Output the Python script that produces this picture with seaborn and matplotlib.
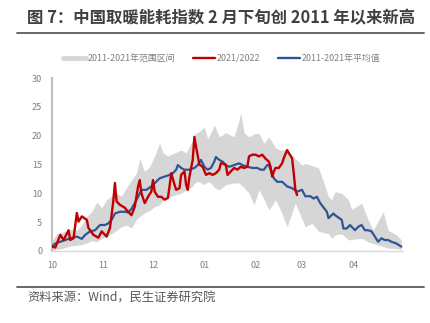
import matplotlib
matplotlib.use("Agg")
import matplotlib.pyplot as plt
from matplotlib.lines import Line2D
import pandas as pd
import seaborn as sns

sns.set_style("white")
plt.rcParams['font.family'] = ['Noto Sans CJK SC', 'DejaVu Sans']

title = "图 7：中国取暖能耗指数 2 月下旬创 2011 年以来新高"
source = "资料来源：Wind，民生证券研究院"
legend_labels = ["2011-2021年范围区间", "2021/2022", "2011-2021年平均值"]
month_labels = ["10", "11", "12", "01", "02", "03", "04", ""]
month_starts = ["10-01", "11-01", "12-01", "01-01", "02-01", "03-01", "04-01", "05-01"]

red_dates = ["10-01", "10-03", "10-06", "10-08", "10-11", "10-12", "10-14", "10-16", "10-17", "10-19",
             "10-22", "10-23", "10-26", "10-29", "10-31", "11-03", "11-05", "11-07", "11-08", "11-09",
             "11-11", "11-14", "11-15", "11-18", "11-20", "11-22", "11-23", "11-24", "11-26", "11-28",
             "11-30", "12-01", "12-02", "12-04", "12-06", "12-08", "12-10", "12-11", "12-12", "12-14",
             "12-15", "12-17", "12-18", "12-20", "12-21", "12-22", "12-23", "12-25", "12-26", "12-27",
             "12-29", "12-31", "01-02", "01-04", "01-06", "01-08", "01-10", "01-11", "01-12", "01-14",
             "01-15", "01-17", "01-19", "01-21", "01-23", "01-25", "01-27", "01-28", "01-30", "02-01",
             "02-03", "02-05", "02-07", "02-09", "02-10", "02-11", "02-12", "02-13", "02-15", "02-17",
             "02-18", "02-20", "02-21", "02-23", "02-24", "02-25", "02-26"]
red_vals = [0.75, 0.6, 2.8, 1.9, 3.6, 1.9, 2.2, 6.6, 5.1, 6.0,
            5.4, 4.0, 2.8, 2.3, 3.4, 2.5, 4.0, 8.6, 11.8, 8.6,
            8.0, 7.5, 7.1, 6.2, 7.7, 11.2, 12.3, 10.0, 8.3, 9.4,
            10.3, 12.3, 10.3, 9.4, 9.4, 8.9, 9.2, 11.2, 13.5, 11.5,
            10.6, 10.9, 13.2, 13.8, 11.5, 10.6, 12.9, 15.8, 19.8, 18.1,
            15.0, 14.6, 13.2, 13.5, 13.2, 13.5, 14.1, 15.2, 15.2, 14.9,
            13.2, 13.8, 14.4, 14.1, 14.6, 14.4, 14.6, 16.4, 16.7, 16.7,
            16.4, 16.7, 16.0, 15.5, 14.6, 12.9, 13.8, 14.4, 14.4, 15.2,
            16.1, 17.5, 17.0, 16.1, 13.5, 10.6, 9.7]

avg_dates = ["10-01", "10-03", "10-06", "10-09", "10-12", "10-16", "10-19", "10-21", "10-24", "10-27",
             "10-30", "11-02", "11-04", "11-06", "11-08", "11-11", "11-14", "11-16", "11-18", "11-20",
             "11-22", "11-24", "11-27", "11-30", "12-02", "12-05", "12-08", "12-11", "12-13", "12-15",
             "12-16", "12-18", "12-20", "12-23", "12-26", "12-28", "12-30", "01-01", "01-03", "01-05",
             "01-07", "01-08", "01-10", "01-12", "01-14", "01-16", "01-19", "01-22", "01-24", "01-27",
             "01-30", "02-02", "02-04", "02-06", "02-08", "02-09", "02-10", "02-12", "02-14", "02-17",
             "02-20", "02-23", "02-26", "03-01", "03-03", "03-06", "03-08", "03-10", "03-12", "03-16",
             "03-17", "03-20", "03-21", "03-25", "03-26", "03-28", "03-30", "04-02", "04-04", "04-06",
             "04-08", "04-10", "04-12", "04-14", "04-16", "04-18", "04-20", "04-22", "04-24", "04-27",
             "04-30"]
avg_vals = [0.8, 1.3, 1.6, 1.9, 2.2, 2.5, 2.1, 2.8, 3.4, 3.6,
            4.5, 4.5, 4.8, 5.4, 6.5, 6.8, 6.8, 6.7, 7.3, 8.3,
            9.4, 10.6, 10.6, 11.2, 11.75, 12.6, 12.9, 13.2, 13.5, 14.1,
            14.9, 14.4, 14.1, 14.1, 14.4, 14.9, 15.8, 14.6, 14.1, 14.4,
            15.5, 16.3, 15.8, 15.5, 14.9, 14.6, 14.9, 15.2, 14.9, 14.6,
            14.4, 14.4, 14.1, 14.1, 14.9, 14.9, 14.1, 12.6, 12.0, 12.0,
            11.2, 10.9, 10.3, 10.6, 9.5, 9.5, 9.1, 9.4, 8.3, 6.8,
            5.7, 6.5, 6.2, 5.4, 3.9, 3.9, 4.5, 3.6, 4.2, 4.5,
            3.6, 3.6, 3.4, 2.5, 1.6, 2.2, 1.9, 1.9, 1.6, 1.3,
            0.75]

band_dates = ["10-01", "10-04", "10-07", "10-10", "10-13", "10-16", "10-19", "10-22", "10-25", "10-28",
              "10-31", "11-03", "11-06", "11-09", "11-12", "11-15", "11-18", "11-21", "11-23", "11-26",
              "11-29", "12-02", "12-05", "12-07", "12-10", "12-14", "12-18", "12-21", "12-24", "12-27",
              "12-29", "01-01", "01-03", "01-05", "01-07", "01-10", "01-14", "01-19", "01-22", "01-23",
              "01-25", "01-28", "01-31", "02-03", "02-06", "02-09", "02-13", "02-16", "02-20", "02-25",
              "03-01", "03-03", "03-07", "03-11", "03-14", "03-17", "03-19", "03-21", "03-25", "03-29",
              "03-31", "04-06", "04-10", "04-13", "04-19", "04-22", "04-27", "04-30"]
band_high = [1.8, 3.0, 3.2, 3.5, 3.8, 3.6, 4.5, 6.0, 6.8, 8.5,
             7.5, 8.9, 9.5, 10.0, 9.5, 11.0, 12.3, 13.5, 16.0, 13.8,
             14.6, 16.5, 18.7, 17.0, 16.5, 17.0, 17.5, 17.0, 18.7, 20.5,
             20.7, 21.5, 19.5, 20.5, 21.9, 19.8, 20.5, 19.8, 22.7, 24.0,
             20.5, 19.8, 20.3, 20.4, 18.7, 19.8, 17.9, 17.5, 17.5, 16.0,
             14.9, 15.2, 14.8, 14.4, 12.0, 9.4, 8.9, 10.3, 10.0, 8.9,
             7.2, 8.3, 5.4, 3.6, 6.8, 3.6, 2.8, 1.9]
band_low = [0.2, 0.3, 0.4, 0.7, 0.9, 1.0, 1.1, 1.4, 1.8, 1.6,
            2.2, 2.5, 3.0, 3.6, 4.2, 4.5, 4.0, 5.5, 6.0, 6.6,
            7.0, 7.7, 8.0, 8.8, 9.2, 9.7, 10.0, 10.6, 11.0, 12.0,
            12.0, 11.5, 12.0, 11.8, 11.0, 10.6, 11.5, 11.8, 11.8, 11.5,
            11.0, 10.0, 8.0, 10.6, 9.0, 7.1, 8.9, 7.1, 4.2, 8.3,
            5.5, 4.2, 4.8, 3.4, 3.2, 3.0, 2.2, 2.8, 3.0, 1.9,
            2.0, 2.2, 1.6, 1.3, 0.75, 0.5, 0.4, 0.2]


def to_dt(md_list):
    out = []
    for md in md_list:
        m = int(md[:2])
        yr = 2021 if m >= 10 else 2022
        out.append(pd.Timestamp(f"{yr}-{md}"))
    return out


red_df = pd.DataFrame({"date": to_dt(red_dates), "value": red_vals})
avg_df = pd.DataFrame({"date": to_dt(avg_dates), "value": avg_vals})
band_df = pd.DataFrame({"date": to_dt(band_dates), "high": band_high, "low": band_low})

RED = "#C00000"
BLUE = "#2F5597"
GRAY = "#D6D6D6"
TXT = "#7F7F7F"

fig = plt.figure(figsize=(4.31, 3.23), dpi=100)
ax = fig.add_axes([0.1207, 0.223, 0.8143, 0.5355])

ax.fill_between(band_df["date"], band_df["low"], band_df["high"], color=GRAY, lw=0, zorder=1)
sns.lineplot(data=avg_df, x="date", y="value", ax=ax, color=BLUE, lw=1.6, zorder=3)
sns.lineplot(data=red_df, x="date", y="value", ax=ax, color=RED, lw=1.7, zorder=4)

ticks = to_dt(month_starts)
ax.set_xlim(ticks[0], ticks[-1])
ax.set_ylim(0, 30)
ax.set_xticks(ticks)
ax.set_xticklabels(month_labels)
ax.set_yticks([0, 5, 10, 15, 20, 25, 30])
ax.set_xlabel("")
ax.set_ylabel("")
ax.tick_params(axis="x", colors=TXT, labelsize=6.5, length=3, width=0.8, color="#D9D9D9", pad=4, direction="out")
ax.tick_params(axis="y", colors=TXT, labelsize=6.5, length=0, pad=7)

for s in ["top", "right"]:
    ax.spines[s].set_visible(False)
ax.spines["left"].set_color("#BFBFBF")
ax.spines["left"].set_linewidth(1.5)
ax.spines["bottom"].set_color("#D9D9D9")
ax.spines["bottom"].set_linewidth(1.0)
ax.grid(False)

handles = [Line2D([], [], color=GRAY, lw=3.5),
           Line2D([], [], color=RED, lw=1.7),
           Line2D([], [], color=BLUE, lw=1.7)]
leg = fig.legend(handles, legend_labels, loc="center", bbox_to_anchor=(0.515, 0.82), ncol=3,
                 frameon=False, fontsize=6.4, handlelength=2.5, handletextpad=0.2, columnspacing=2.0)
for t in leg.get_texts():
    t.set_color(TXT)

fig.text(0.063, 0.944, title, fontsize=11.8, fontweight="bold", color="#404040", ha="left", va="center")
fig.add_artist(Line2D([0.04, 0.984], [0.898, 0.898], transform=fig.transFigure, color="#595959", lw=1.3))
fig.add_artist(Line2D([0.04, 0.984], [0.111, 0.111], transform=fig.transFigure, color="#595959", lw=1.3))
fig.text(0.063, 0.077, source, fontsize=8.8, color="#595959", ha="left", va="center")

fig.savefig("out.png", dpi=100)
